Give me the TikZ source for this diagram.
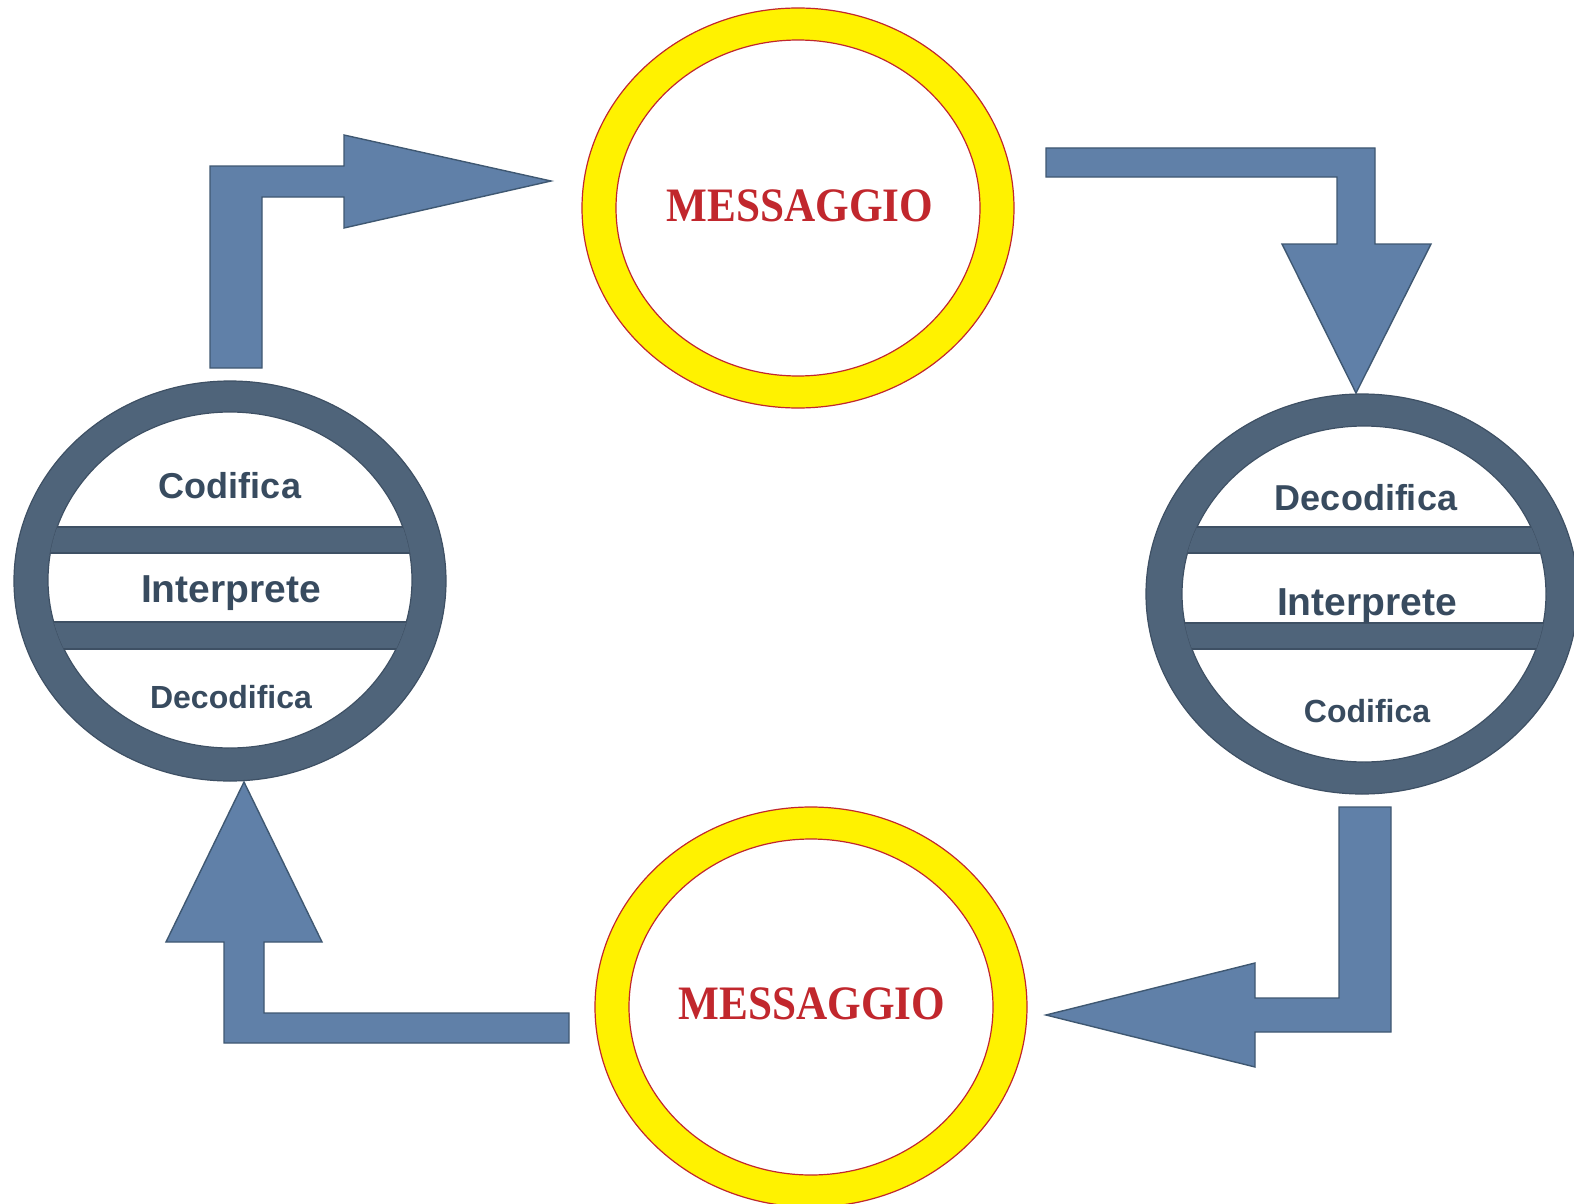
\documentclass[tikz,border=0pt]{standalone}
\usepackage{fontspec}
\setmainfont{Liberation Sans}
\newfontfamily\msgfont[FakeStretch=0.9]{Liberation Serif}
\usetikzlibrary{shapes.geometric}
\definecolor{slate}{RGB}{79,100,122}
\definecolor{slateline}{RGB}{62,80,100}
\definecolor{slatetext}{RGB}{56,75,95}
\definecolor{arrowblue}{RGB}{96,128,168}
\definecolor{arrowline}{RGB}{63,88,114}
\definecolor{msgyellow}{RGB}{255,242,0}
\definecolor{msgred}{RGB}{193,39,45}
\begin{document}
\begin{tikzpicture}
            [x=0.5pt,y=-0.5pt,
             Outer/.style={ellipse,inner sep=0pt,minimum width=216pt,minimum height=200pt},
             Inner/.style={ellipse,inner sep=0pt,minimum width=182pt,minimum height=168pt,fill=white},
             Ring/.style={Outer,fill=slate,draw=slateline,line width=0.6pt},
             Hole/.style={Inner,draw=slateline,line width=0.6pt},
             Msg/.style={Outer,fill=msgyellow,draw=msgred,line width=0.6pt},
             MsgHole/.style={Inner,draw=msgred,line width=0.6pt},
             Band/.style={fill=slate,draw=slateline,line width=0.6pt},
             Arrow/.style={fill=arrowblue,draw=arrowline,line width=0.7pt,line join=miter},
             Big/.style={anchor=base,text=slatetext,font=\bfseries\fontsize{19.5pt}{22pt}\selectfont},
             Mid/.style={anchor=base,text=slatetext,font=\bfseries\fontsize{18pt}{20pt}\selectfont},
             Small/.style={anchor=base,text=slatetext,font=\bfseries\fontsize{16pt}{18pt}\selectfont},
             Word/.style={anchor=base,text=msgred,font=\msgfont\bfseries\fontsize{24pt}{26pt}\selectfont}]
            \useasboundingbox (0,0) rectangle (1574,1204);

            \draw[Arrow] (210,368) -- (210,166) -- (344,166) -- (344,135) -- (551,181)
                -- (344,228) -- (344,197) -- (262,197) -- (262,368) -- cycle;
            \draw[Arrow] (1046,148) -- (1375,148) -- (1375,244) -- (1431,244) -- (1356,393)
                -- (1282,244) -- (1337,244) -- (1337,177) -- (1046,177) -- cycle;
            \draw[Arrow] (1339,807) -- (1391,807) -- (1391,1032) -- (1255,1032) -- (1255,1067)
                -- (1046,1015) -- (1255,963) -- (1255,998) -- (1339,998) -- cycle;
            \draw[Arrow] (244,782) -- (322,942) -- (264,942) -- (264,1013) -- (569,1013)
                -- (569,1043) -- (224,1043) -- (224,942) -- (166,942) -- cycle;

            \node[Msg] (mtop) at (798,208) {};
            \node[MsgHole] (mtopin) at (798,208) {};
            \node[Word] (mtoptext) at (800,221) {MESSAGGIO};

            \node[Msg] (mbot) at (811,1007) {};
            \node[MsgHole] (mbotin) at (811,1007) {};
            \node[Word] (mbottext) at (812,1019) {MESSAGGIO};

            \node[Ring] (left) at (230,581) {};
            \node[Hole] (leftin) at (230,580) {};
            \begin{scope}
                \clip (230,580) ellipse [x radius=182, y radius=168];
                \draw[Band] (30,527) rectangle (430,553);
                \draw[Band] (30,622) rectangle (430,649);
            \end{scope}
            \node[Mid] (lcod) at (230,498) {Codifica};
            \node[Big] (lint) at (231,602) {Interprete};
            \node[Small] (ldec) at (231,708) {Decodifica};

            \node[Ring] (right) at (1362,594) {};
            \node[Hole] (rightin) at (1364,594) {};
            \begin{scope}
                \clip (1364,594) ellipse [x radius=182, y radius=168];
                \draw[Band] (1160,527) rectangle (1570,553);
                \draw[Band] (1160,623) rectangle (1570,649);
            \end{scope}
            \node[Mid] (rdec) at (1366,510) {Decodifica};
            \node[Big] (rint) at (1367,615) {Interprete};
            \node[Small] (rcod) at (1367,722) {Codifica};
        \end{tikzpicture}
\end{document}
